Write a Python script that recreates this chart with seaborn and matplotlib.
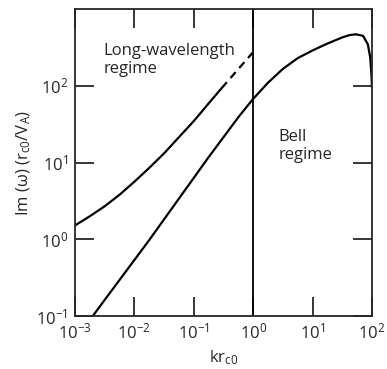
import numpy as np
import matplotlib
matplotlib.use("Agg")
import matplotlib.pyplot as plt
import seaborn as sns

# long-wavelength branch, log10 values (solid part)
lw_logk = [-3.0, -2.75, -2.5, -2.25, -2.0, -1.75, -1.5, -1.25, -1.0, -0.75, -0.53]
lw_logg = [0.18, 0.30, 0.43, 0.58, 0.75, 0.93, 1.12, 1.33, 1.54, 1.77, 1.97]
# dashed extension up to kr = 1
lw_dash_logk = [-0.53, -0.01]
lw_dash_logg = [1.97, 2.43]

# Bell branch
bell_logk = [-2.70, -2.5, -2.25, -2.0, -1.75, -1.5, -1.25, -1.0, -0.75, -0.5, -0.25,
             0.0, 0.25, 0.5, 0.75, 1.0, 1.25, 1.5, 1.62, 1.73, 1.85, 1.93, 1.97, 1.99, 2.0]
bell_logg = [-1.0, -0.79, -0.53, -0.27, -0.01, 0.26, 0.53, 0.80, 1.07, 1.33, 1.59,
             1.83, 2.04, 2.22, 2.36, 2.46, 2.55, 2.63, 2.66, 2.67, 2.65, 2.54, 2.37, 2.15, 1.98]

xticks = [1e-3, 1e-2, 1e-1, 1e0, 1e1, 1e2]
xticklabels = ['$10^{-3}$', '$10^{-2}$', '$10^{-1}$', '$10^{0}$', '$10^{1}$', '$10^{2}$']
yticks = [1e-1, 1e0, 1e1, 1e2]
yticklabels = ['$10^{-1}$', '$10^{0}$', '$10^{1}$', '$10^{2}$']

sns.set_style("ticks")
plt.rcParams['font.family'] = ['Open Sans', 'DejaVu Sans']
plt.rcParams['mathtext.default'] = 'regular'
plt.rcParams['font.size'] = 12

fig = plt.figure(figsize=(3.87, 3.69), dpi=100)
ax = fig.add_axes([75/387, 1-316/369, (372-75)/387, (316-9)/369])

p = lambda v: 10**np.asarray(v)
sns.lineplot(x=p(lw_logk), y=p(lw_logg), ax=ax, color='black', lw=1.6, sort=False)
sns.lineplot(x=p(lw_dash_logk), y=p(lw_dash_logg), ax=ax, color='black', lw=1.6, sort=False)
ax.lines[-1].set_linestyle((0, (3.5, 2.5)))
sns.lineplot(x=p(bell_logk), y=p(bell_logg), ax=ax, color='black', lw=1.6, sort=False)
ax.axvline(1.0, color='black', lw=1.3)

ax.set_xscale('log')
ax.set_yscale('log')
ax.set_xlim(1e-3, 1e2)
ax.set_ylim(1e-1, 1e3)
ax.set_xticks(xticks)
ax.set_xticklabels(xticklabels)
ax.set_yticks(yticks)
ax.set_yticklabels(yticklabels)
ax.minorticks_off()
ax.tick_params(which='major', direction='in', length=13.5, width=1.3,
               top=True, right=True, labelsize=12, pad=5)
for s in ax.spines.values():
    s.set_linewidth(1.3)
    s.set_visible(True)

ax.set_xlabel('kr$_{c0}$', fontsize=12, labelpad=4)
ax.set_ylabel('Im (ω) (r$_{c0}$/V$_A$)', fontsize=12, labelpad=2)

ax.text(0.095, 0.89, 'Long-wavelength\nregime', transform=ax.transAxes,
        fontsize=12, va='top', ha='left', linespacing=1.15)
ax.text(0.685, 0.61, 'Bell\nregime', transform=ax.transAxes,
        fontsize=12, va='top', ha='left', linespacing=1.15)

fig.savefig('out.png', dpi=100)
